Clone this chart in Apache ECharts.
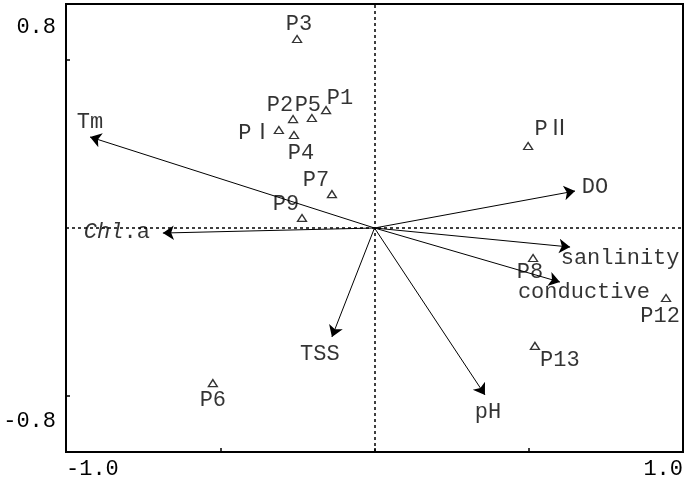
<!DOCTYPE html>
<html><head><meta charset="utf-8">
<script src="https://cdn.jsdelivr.net/npm/echarts@6/dist/echarts.min.js"></script>
<style>html,body{margin:0;padding:0;background:#fff}#c{width:700px;height:481px}</style>
</head><body><div id="c"></div>
<script>
// ---- data ----
const siteNames = ['P3','P2','P5','P1','PⅠ','P4','P7','P9','PⅡ','P8','P12','P13','P6'];
const siteX = [-0.251,-0.264,-0.203,-0.157,-0.310,-0.261,-0.138,-0.235,0.498,0.514,0.945,0.520,-0.524];
const siteY = [0.675,0.389,0.393,0.421,0.350,0.332,0.121,0.036,0.293,-0.107,-0.250,-0.421,-0.554];
const envNames = ['Tm','Chl.a','DO','sanlinity','conductive','TSS','pH'];
const envX = [-0.922,-0.686,0.650,0.634,0.601,-0.138,0.358];
const envY = [0.325,-0.018,0.132,-0.068,-0.193,-0.389,-0.596];
const xTickLabels = ['-1.0','1.0'];
const yTickLabels = ['-0.8','0.8'];

// ---- layout (label offsets in px) ----
const siteLabelOffset = {
  'P3':[2,-15],'P2':[-13,-14],'P5':[-4,-13],'P1':[14,-12],'PⅠ':[-23,3],'P4':[7,18],
  'P7':[-16,-14],'P9':[-16,-14],'PⅡ':[24,-17],'P8':[-3,14],'P12':[-6,18],'P13':[25,14],'P6':[0,17]
};
const envLabelOffset = {
  'Tm':[0,-15],'Chl.a':[-46,-1],'DO':[20,-4],'sanlinity':[50,11],'conductive':[24,10],'TSS':[-12,17],'pH':[3,17]
};

const FONT = '"Liberation Mono", "Noto Sans CJK SC", monospace';
const FS = 22;
const chart = echarts.init(document.getElementById('c'), null, {renderer:'canvas'});

const option = {
  animation: false,
  backgroundColor: '#fff',
  grid: {left:66, right:17, top:4, bottom:29, show:true, borderColor:'#000', borderWidth:2,
         containLabel:false, outerBoundsMode:'none'},
  xAxis: {
    type:'value', min:-1, max:1, interval:0.5,
    splitLine:{show:false},
    axisLine:{onZero:false, lineStyle:{color:'#000', width:2}},
    axisTick:{inside:true, length:4, lineStyle:{color:'#000', width:1.5}},
    axisLabel:{
      interval:0, margin:6, color:'#000', fontFamily:FONT, fontSize:FS,
      alignMinLabel:'left', alignMaxLabel:'right',
      formatter: v => v <= -0.99 ? xTickLabels[0] : (v >= 0.99 ? xTickLabels[1] : '')
    }
  },
  yAxis: {
    type:'value', min:-0.8, max:0.8, interval:0.8,
    splitLine:{show:false},
    axisLine:{onZero:false, lineStyle:{color:'#000', width:2}},
    axisTick:{inside:true, length:4, customValues:[-0.6,0.6], lineStyle:{color:'#000', width:1.5}},
    axisLabel:{
      margin:10, color:'#000', fontFamily:FONT, fontSize:FS,
      formatter: v => v < -0.5 ? '{b|' + yTickLabels[0] + '}' : (v > 0.5 ? '{t|' + yTickLabels[1] + '}' : ''),
      rich:{
        t:{fontFamily:FONT, fontSize:FS, color:'#000', padding:[46,0,0,0]},
        b:{fontFamily:FONT, fontSize:FS, color:'#000', padding:[0,0,62,0]}
      }
    }
  },
  series: [
    {
      type:'lines', coordinateSystem:'cartesian2d', silent:true, z:3,
      symbol:['none','arrow'], symbolSize:[6,11],
      lineStyle:{color:'#000', width:1, opacity:1},
      data: envNames.map((n,i) => ({coords:[[0,0],[envX[i],envY[i]]]}))
    },
    {
      type:'scatter', z:4, symbolSize:1, itemStyle:{color:'rgba(0,0,0,0)'},
      label:{
        show:true, position:'inside', color:'#000', fontFamily:FONT, fontSize:FS,
        formatter: p => p.name === 'Chl.a' ? '{i|Chl}{n|.a}' : p.name,
        rich:{
          i:{fontFamily:FONT, fontSize:FS, fontStyle:'italic', color:'#000'},
          n:{fontFamily:FONT, fontSize:FS, color:'#000'}
        }
      },
      data: envNames.map((n,i) => ({name:n, value:[envX[i],envY[i]], label:{offset:envLabelOffset[n]}}))
    },
    {
      type:'scatter', z:5, symbol:'triangle', symbolSize:[9,7],
      itemStyle:{color:'#fff', borderColor:'#000', borderWidth:1.3},
      label:{show:true, position:'inside', color:'#000', fontFamily:FONT, fontSize:FS, formatter:'{b}'},
      data: siteNames.map((n,i) => ({name:n, value:[siteX[i],siteY[i]], label:{offset:siteLabelOffset[n]}})),
      markLine:{
        silent:true, symbol:'none', label:{show:false},
        lineStyle:{color:'#000', type:[3,3], width:1.5},
        data:[{xAxis:0},{yAxis:0}]
      }
    }
  ]
};
chart.setOption(option);
</script>
</body></html>
